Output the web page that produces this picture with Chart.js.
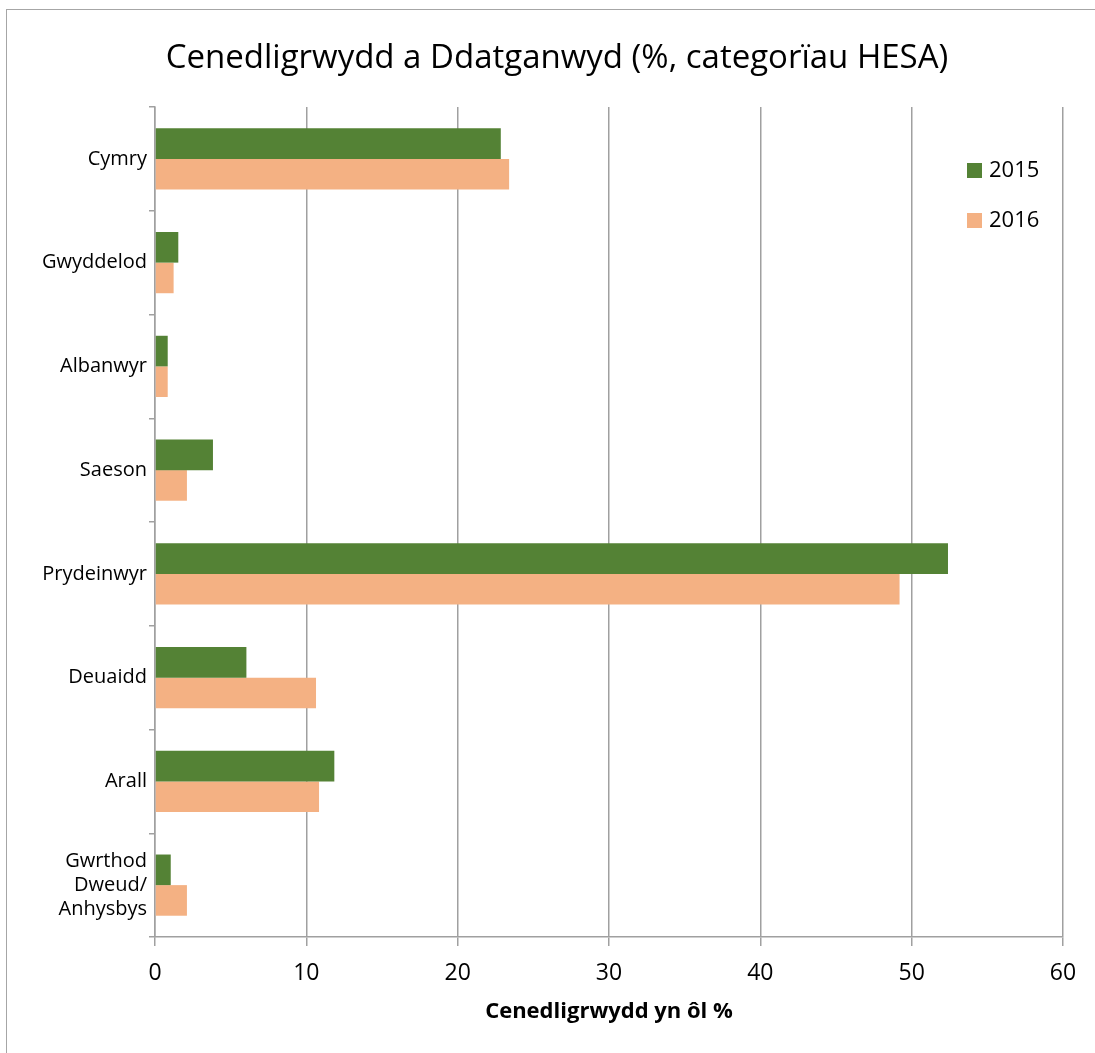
<!DOCTYPE html>
<html>
<head>
<meta charset="utf-8">
<script src="https://cdn.jsdelivr.net/npm/chart.js@4.4.1/dist/chart.umd.min.js"></script>
<style>
    html, body { margin: 0; padding: 0; background: #fff; overflow: hidden; }
    #wrap { position: relative; width: 1095px; height: 1053px; }
    #frame {
        position: absolute; left: 6px; top: 9px; width: 2000px; height: 2000px;
        border: 1.5px solid #a6a6a6; pointer-events: none;
    }
</style>
</head>
<body>
<div id="wrap">
    <canvas id="mainChart" width="1095" height="1053"></canvas>
    <div id="frame"></div>
</div>
<script>
// Datos
const titulo = 'Cenedligrwydd a Ddatganwyd (%, categorïau HESA)';
const categorias = ['Cymry', 'Gwyddelod', 'Albanwyr', 'Saeson', 'Prydeinwyr', 'Deuaidd', 'Arall', ['Gwrthod', 'Dweud/', 'Anhysbys']];
const valores2015 = [22.85, 1.54, 0.84, 3.83, 52.4, 6.04, 11.85, 1.04];
const valores2016 = [23.4, 1.23, 0.84, 2.11, 49.2, 10.64, 10.84, 2.11];
const ticksX = [0, 10, 20, 30, 40, 50, 60];

const FONT = "'Open Sans', 'DejaVu Sans', sans-serif";
const GRID = '#a0a0a0';

// Título y leyenda dibujados a mano (posición como en Excel)
const decoracion = {
    id: 'decoracion',
    afterDraw(chart) {
        const ctx = chart.ctx;
        ctx.save();
        ctx.fillStyle = '#000';
        ctx.font = `33px ${FONT}`;
        ctx.textAlign = 'center';
        ctx.textBaseline = 'alphabetic';
        ctx.fillText(titulo, 557, 68);

        ctx.font = `22px ${FONT}`;
        ctx.textAlign = 'left';
        ctx.textBaseline = 'middle';
        chart.data.datasets.forEach((ds, i) => {
            const y = 170 + i * 50;
            ctx.fillStyle = ds.backgroundColor;
            ctx.fillRect(967, y - 7, 15, 15);
            ctx.fillStyle = '#000';
            ctx.fillText(ds.label, 989, y + 1);
        });
        ctx.restore();
    }
};

const ctx = document.getElementById('mainChart').getContext('2d');
new Chart(ctx, {
    type: 'bar',
    data: {
        labels: categorias,
        datasets: [
            { label: '2015', data: valores2015, backgroundColor: '#548235', barPercentage: 1, categoryPercentage: 0.59 },
            { label: '2016', data: valores2016, backgroundColor: '#f4b183', barPercentage: 1, categoryPercentage: 0.59 }
        ]
    },
    options: {
        indexAxis: 'y',
        responsive: false,
        animation: false,
        layout: { padding: { left: 0, right: 32, top: 107, bottom: 0 } },
        plugins: {
            legend: { display: false },
            tooltip: { enabled: false },
            title: { display: false }
        },
        scales: {
            x: {
                min: 0,
                max: 60,
                afterBuildTicks: axis => { axis.ticks = ticksX.map(v => ({ value: v })); },
                afterFit: axis => { axis.height = 116; },
                grid: { color: GRID, lineWidth: 1.5, tickLength: 9 },
                border: { color: GRID, width: 1.5 },
                ticks: { color: '#000', font: { family: FONT, size: 23 }, padding: 14 },
                title: {
                    display: true,
                    text: 'Cenedligrwydd yn ôl %',
                    color: '#000',
                    font: { family: FONT, size: 22, weight: 'bold' },
                    padding: { top: 0, bottom: 28 }
                }
            },
            y: {
                afterFit: axis => { axis.width = 155; },
                grid: { offset: true, drawOnChartArea: false, color: GRID, lineWidth: 1.5, tickLength: 6 },
                border: { color: GRID, width: 1.5 },
                ticks: { color: '#000', font: { family: FONT, size: 20 }, padding: 2, autoSkip: false }
            }
        }
    },
    plugins: [decoracion]
});
</script>
</body>
</html>
